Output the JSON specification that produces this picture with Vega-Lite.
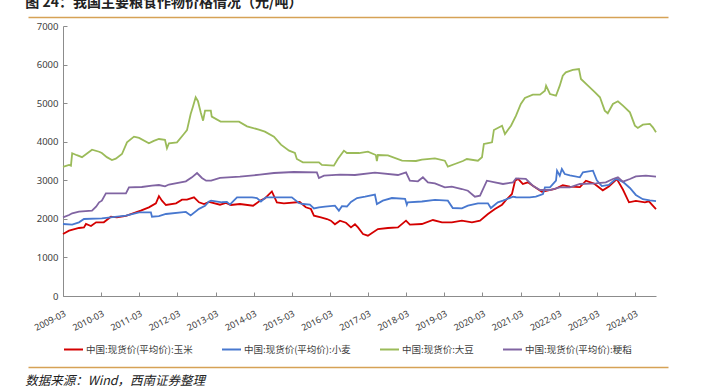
{
  "$schema": "https://vega.github.io/schema/vega-lite/v6.json",
  "background": "white",
  "padding": {"left": 25, "top": -5, "right": 5, "bottom": 0},
  "spacing": 0,
  "bounds": "full",
  "resolve": {"scale": {"color": "independent"}, "legend": {"color": "independent"}},
  "datasets": {
    "corn": [
      {"date":"2009-03-01","price":1607},{"date":"2009-04-28","price":1693},{"date":"2009-08-01","price":1763},{"date":"2009-09-18","price":1780},{"date":"2009-10-07","price":1867},{"date":"2009-11-24","price":1815},{"date":"2010-01-12","price":1910},{"date":"2010-03-27","price":1910},{"date":"2010-06-03","price":2056},{"date":"2010-07-30","price":2040},{"date":"2010-10-25","price":2075},{"date":"2011-03-16","price":2212},{"date":"2011-06-02","price":2298},{"date":"2011-08-08","price":2403},{"date":"2011-09-06","price":2590},{"date":"2011-10-05","price":2471},{"date":"2011-11-12","price":2359},{"date":"2012-02-17","price":2403},{"date":"2012-04-14","price":2497},{"date":"2012-06-01","price":2497},{"date":"2012-08-07","price":2558},{"date":"2012-09-24","price":2429},{"date":"2012-11-11","price":2385},{"date":"2012-12-29","price":2437},{"date":"2013-04-13","price":2367},{"date":"2013-06-09","price":2411},{"date":"2013-07-26","price":2359},{"date":"2013-10-21","price":2385},{"date":"2014-02-24","price":2341},{"date":"2014-05-01","price":2471},{"date":"2014-06-17","price":2530},{"date":"2014-08-23","price":2710},{"date":"2014-10-10","price":2429},{"date":"2014-12-16","price":2403},{"date":"2015-05-17","price":2437},{"date":"2015-07-14","price":2300},{"date":"2015-09-01","price":2255},{"date":"2015-09-30","price":2082},{"date":"2015-12-06","price":2040},{"date":"2016-02-02","price":1996},{"date":"2016-03-10","price":1953},{"date":"2016-04-18","price":1860},{"date":"2016-06-05","price":1953},{"date":"2016-08-02","price":1900},{"date":"2016-09-19","price":1780},{"date":"2016-10-27","price":1860},{"date":"2016-11-25","price":1780},{"date":"2017-01-12","price":1607},{"date":"2017-02-28","price":1564},{"date":"2017-06-04","price":1737},{"date":"2017-09-08","price":1763},{"date":"2017-12-13","price":1780},{"date":"2018-02-28","price":1953},{"date":"2018-04-06","price":1850},{"date":"2018-07-30","price":1867},{"date":"2018-11-13","price":1970},{"date":"2019-02-08","price":1910},{"date":"2019-05-13","price":1910},{"date":"2019-08-17","price":1953},{"date":"2019-11-22","price":1910},{"date":"2020-02-07","price":1953},{"date":"2020-04-23","price":2126},{"date":"2020-06-29","price":2255},{"date":"2020-09-05","price":2367},{"date":"2020-10-22","price":2515},{"date":"2020-12-09","price":2645},{"date":"2021-01-08","price":2990},{"date":"2021-02-06","price":3034},{"date":"2021-03-23","price":2904},{"date":"2021-05-10","price":2947},{"date":"2021-06-27","price":2860},{"date":"2021-09-22","price":2700},{"date":"2022-01-25","price":2774},{"date":"2022-04-10","price":2870},{"date":"2022-06-17","price":2835},{"date":"2022-09-21","price":2825},{"date":"2022-11-18","price":2990},{"date":"2023-02-03","price":2915},{"date":"2023-04-28","price":2740},{"date":"2023-06-25","price":2840},{"date":"2023-09-10","price":3030},{"date":"2023-11-07","price":2760},{"date":"2024-01-04","price":2430},{"date":"2024-03-10","price":2465},{"date":"2024-06-05","price":2430},{"date":"2024-07-13","price":2455},{"date":"2024-09-19","price":2255}
    ],
    "wheat": [
      {"date":"2009-03-01","price":1867},{"date":"2009-05-28","price":1850},{"date":"2009-08-01","price":1910},{"date":"2009-09-18","price":1996},{"date":"2010-03-08","price":2013},{"date":"2010-10-25","price":2082},{"date":"2011-02-28","price":2170},{"date":"2011-06-21","price":2170},{"date":"2011-07-01","price":2056},{"date":"2011-09-06","price":2070},{"date":"2011-11-12","price":2126},{"date":"2012-05-21","price":2180},{"date":"2012-07-06","price":2090},{"date":"2012-09-24","price":2260},{"date":"2012-11-21","price":2341},{"date":"2012-12-29","price":2450},{"date":"2013-01-18","price":2471},{"date":"2013-05-02","price":2430},{"date":"2013-06-18","price":2440},{"date":"2013-07-17","price":2370},{"date":"2013-09-23","price":2558},{"date":"2014-02-14","price":2558},{"date":"2014-04-02","price":2540},{"date":"2014-05-10","price":2450},{"date":"2014-06-26","price":2558},{"date":"2015-03-02","price":2558},{"date":"2015-05-08","price":2411},{"date":"2015-06-16","price":2385},{"date":"2015-08-22","price":2367},{"date":"2015-09-30","price":2270},{"date":"2015-11-17","price":2298},{"date":"2016-01-14","price":2316},{"date":"2016-04-18","price":2341},{"date":"2016-05-26","price":2212},{"date":"2016-06-24","price":2330},{"date":"2016-08-11","price":2320},{"date":"2016-09-19","price":2440},{"date":"2016-11-16","price":2540},{"date":"2017-02-01","price":2575},{"date":"2017-05-06","price":2627},{"date":"2017-05-25","price":2385},{"date":"2017-07-21","price":2471},{"date":"2017-10-16","price":2540},{"date":"2018-02-19","price":2520},{"date":"2018-03-08","price":2367},{"date":"2018-03-17","price":2430},{"date":"2018-07-30","price":2450},{"date":"2018-12-02","price":2490},{"date":"2019-04-05","price":2471},{"date":"2019-05-22","price":2281},{"date":"2019-08-17","price":2270},{"date":"2019-10-14","price":2341},{"date":"2020-01-18","price":2403},{"date":"2020-04-23","price":2403},{"date":"2020-05-21","price":2280},{"date":"2020-07-27","price":2429},{"date":"2020-09-14","price":2471},{"date":"2020-12-19","price":2575},{"date":"2021-01-17","price":2560},{"date":"2021-05-29","price":2558},{"date":"2021-07-26","price":2575},{"date":"2021-10-02","price":2645},{"date":"2021-10-21","price":2818},{"date":"2021-12-08","price":2818},{"date":"2022-02-04","price":2990},{"date":"2022-02-14","price":3249},{"date":"2022-03-12","price":3120},{"date":"2022-04-01","price":3292},{"date":"2022-04-29","price":3163},{"date":"2022-06-17","price":3130},{"date":"2022-09-21","price":3077},{"date":"2022-10-20","price":3206},{"date":"2023-01-24","price":3249},{"date":"2023-03-02","price":3000},{"date":"2023-04-19","price":2850},{"date":"2023-06-25","price":2880},{"date":"2023-09-01","price":3040},{"date":"2023-11-07","price":2960},{"date":"2024-01-13","price":2800},{"date":"2024-03-10","price":2620},{"date":"2024-05-16","price":2510},{"date":"2024-07-22","price":2480},{"date":"2024-09-19","price":2460}
    ],
    "soy": [
      {"date":"2009-03-01","price":3350},{"date":"2009-04-28","price":3400},{"date":"2009-05-16","price":3380},{"date":"2009-05-28","price":3700},{"date":"2009-07-12","price":3650},{"date":"2009-08-30","price":3600},{"date":"2009-12-04","price":3793},{"date":"2010-02-10","price":3740},{"date":"2010-03-08","price":3707},{"date":"2010-04-25","price":3600},{"date":"2010-06-13","price":3526},{"date":"2010-07-20","price":3560},{"date":"2010-09-17","price":3681},{"date":"2010-11-04","price":3985},{"date":"2011-01-10","price":4131},{"date":"2011-02-28","price":4100},{"date":"2011-06-02","price":3958},{"date":"2011-07-19","price":4020},{"date":"2011-09-06","price":4070},{"date":"2011-11-03","price":4050},{"date":"2011-11-22","price":3830},{"date":"2011-12-11","price":3960},{"date":"2012-02-26","price":3985},{"date":"2012-05-02","price":4200},{"date":"2012-06-01","price":4300},{"date":"2012-07-06","price":4719},{"date":"2012-07-27","price":4900},{"date":"2012-08-23","price":5151},{"date":"2012-09-14","price":5050},{"date":"2012-10-10","price":4762},{"date":"2012-11-02","price":4545},{"date":"2012-11-21","price":4805},{"date":"2013-01-15","price":4805},{"date":"2013-01-24","price":4650},{"date":"2013-04-19","price":4520},{"date":"2013-10-12","price":4520},{"date":"2013-12-28","price":4399},{"date":"2014-04-20","price":4313},{"date":"2014-06-17","price":4260},{"date":"2014-09-12","price":4131},{"date":"2014-11-18","price":3923},{"date":"2015-02-04","price":3768},{"date":"2015-04-01","price":3707},{"date":"2015-04-19","price":3552},{"date":"2015-06-16","price":3466},{"date":"2015-11-17","price":3466},{"date":"2015-12-15","price":3400},{"date":"2016-04-08","price":3379},{"date":"2016-05-16","price":3552},{"date":"2016-07-13","price":3768},{"date":"2016-08-11","price":3707},{"date":"2016-12-05","price":3707},{"date":"2017-02-28","price":3741},{"date":"2017-05-15","price":3655},{"date":"2017-05-25","price":3500},{"date":"2017-06-04","price":3655},{"date":"2017-09-08","price":3646},{"date":"2018-01-21","price":3508},{"date":"2018-06-03","price":3500},{"date":"2018-07-30","price":3534},{"date":"2018-12-02","price":3569},{"date":"2019-03-07","price":3508},{"date":"2019-04-05","price":3353},{"date":"2019-06-11","price":3422},{"date":"2019-08-27","price":3500},{"date":"2019-10-04","price":3552},{"date":"2020-01-18","price":3508},{"date":"2020-02-26","price":3596},{"date":"2020-03-15","price":3941},{"date":"2020-04-13","price":3958},{"date":"2020-06-01","price":3985},{"date":"2020-06-19","price":4304},{"date":"2020-09-05","price":4416},{"date":"2020-10-03","price":4200},{"date":"2020-11-30","price":4416},{"date":"2021-01-17","price":4675},{"date":"2021-03-04","price":4978},{"date":"2021-04-12","price":5133},{"date":"2021-06-27","price":5219},{"date":"2021-09-04","price":5219},{"date":"2021-10-21","price":5323},{"date":"2021-11-01","price":5453},{"date":"2021-12-08","price":5237},{"date":"2022-02-04","price":5193},{"date":"2022-03-12","price":5453},{"date":"2022-04-10","price":5712},{"date":"2022-05-09","price":5800},{"date":"2022-07-15","price":5860},{"date":"2022-09-12","price":5885},{"date":"2022-10-01","price":5626},{"date":"2022-12-07","price":5453},{"date":"2023-02-13","price":5280},{"date":"2023-04-01","price":5151},{"date":"2023-05-17","price":4805},{"date":"2023-06-15","price":4737},{"date":"2023-08-03","price":4978},{"date":"2023-09-20","price":5047},{"date":"2023-11-07","price":4934},{"date":"2024-01-13","price":4762},{"date":"2024-03-01","price":4416},{"date":"2024-03-29","price":4356},{"date":"2024-05-16","price":4442},{"date":"2024-07-22","price":4460},{"date":"2024-08-20","price":4373},{"date":"2024-09-19","price":4243}
    ],
    "rice": [
      {"date":"2009-03-01","price":2040},{"date":"2009-04-28","price":2100},{"date":"2009-05-28","price":2144},{"date":"2009-08-01","price":2186},{"date":"2009-12-04","price":2212},{"date":"2010-01-12","price":2316},{"date":"2010-02-10","price":2429},{"date":"2010-03-08","price":2471},{"date":"2010-04-16","price":2662},{"date":"2010-10-25","price":2662},{"date":"2010-11-23","price":2818},{"date":"2011-03-26","price":2826},{"date":"2011-07-01","price":2860},{"date":"2011-09-06","price":2877},{"date":"2011-11-03","price":2843},{"date":"2011-12-11","price":2890},{"date":"2012-05-21","price":2973},{"date":"2012-07-18","price":3077},{"date":"2012-09-05","price":3189},{"date":"2012-10-22","price":3060},{"date":"2012-12-01","price":2990},{"date":"2013-01-18","price":2990},{"date":"2013-04-13","price":3060},{"date":"2013-10-21","price":3093},{"date":"2014-05-01","price":3146},{"date":"2014-09-12","price":3189},{"date":"2015-03-21","price":3215},{"date":"2015-10-28","price":3206},{"date":"2015-11-17","price":3060},{"date":"2016-01-04","price":3120},{"date":"2016-06-05","price":3146},{"date":"2016-10-27","price":3137},{"date":"2017-05-06","price":3197},{"date":"2017-12-13","price":3137},{"date":"2018-02-28","price":3206},{"date":"2018-04-06","price":2990},{"date":"2018-06-22","price":2973},{"date":"2018-08-09","price":3077},{"date":"2018-09-26","price":2947},{"date":"2018-12-02","price":2920},{"date":"2019-03-07","price":2818},{"date":"2019-05-13","price":2835},{"date":"2019-08-17","price":2774},{"date":"2019-10-14","price":2730},{"date":"2019-12-20","price":2575},{"date":"2020-02-07","price":2600},{"date":"2020-04-13","price":2990},{"date":"2020-06-29","price":2947},{"date":"2020-09-14","price":2904},{"date":"2020-12-19","price":2947},{"date":"2021-01-17","price":3051},{"date":"2021-04-21","price":3034},{"date":"2021-06-27","price":2860},{"date":"2021-09-04","price":2748},{"date":"2021-12-08","price":2748},{"date":"2022-03-12","price":2818},{"date":"2022-06-17","price":2818},{"date":"2022-09-21","price":2904},{"date":"2023-02-22","price":2920},{"date":"2023-05-27","price":2947},{"date":"2023-08-03","price":3034},{"date":"2023-09-20","price":3077},{"date":"2023-11-07","price":2964},{"date":"2024-01-13","price":3034},{"date":"2024-03-10","price":3103},{"date":"2024-06-14","price":3120},{"date":"2024-09-19","price":3095}
    ]
  },
  "vconcat": [
    {
      "width": 640,
      "height": 1,
      "data": {"values": [{"v": 0}]},
      "mark": {"type": "point", "opacity": 0},
      "encoding": {
        "x": {"field": "v", "type": "quantitative", "scale": {"domain": [0, 1]},
              "axis": {"orient": "top", "labels": false, "ticks": false, "title": null, "grid": false, "domainColor": "#d6a256", "domainWidth": 1.5}}
      },
      "title": {"text": "图 24：我国主要粮食作物价格情况（元/吨）", "anchor": "start", "fontSize": 14, "fontWeight": "bold", "font": "Noto Sans CJK SC", "color": "#222222", "offset": 5}
    },
    {
      "hconcat": [
        {
          "width": 1,
          "height": 270,
          "data": {"values": [{}]},
          "mark": {"type": "text"},
          "encoding": {"text": {"value": ""}},
          "view": {"stroke": null, "fill": "#ffffff"}
        },
        {
          "width": 593,
          "height": 270,
          "encoding": {
            "x": {
              "field": "date",
              "type": "temporal",
              "scale": {"domain": [{"year": 2009, "month": 3, "date": 1}, {"year": 2024, "month": 9, "date": 19}]},
              "axis": {
                "title": null,
                "grid": false,
                "values": [
                  {"year": 2009, "month": 3, "date": 1}, {"year": 2010, "month": 3, "date": 1}, {"year": 2011, "month": 3, "date": 1}, {"year": 2012, "month": 3, "date": 1},
                  {"year": 2013, "month": 3, "date": 1}, {"year": 2014, "month": 3, "date": 1}, {"year": 2015, "month": 3, "date": 1}, {"year": 2016, "month": 3, "date": 1},
                  {"year": 2017, "month": 3, "date": 1}, {"year": 2018, "month": 3, "date": 1}, {"year": 2019, "month": 3, "date": 1}, {"year": 2020, "month": 3, "date": 1},
                  {"year": 2021, "month": 3, "date": 1}, {"year": 2022, "month": 3, "date": 1}, {"year": 2023, "month": 3, "date": 1}, {"year": 2024, "month": 3, "date": 1}
                ],
                "format": "%Y-%m",
                "labelAngle": -27,
                "labelFontSize": 9,
                "labelFont": "Noto Sans",
                "labelColor": "#404040",
                "labelOverlap": false,
                "labelFlush": false,
                "labelBound": false,
                "labelPadding": 17,
                "domainColor": "#8c8c8c",
                "tickColor": "#8c8c8c",
                "tickSize": -4
              }
            },
            "y": {
              "field": "price",
              "type": "quantitative",
              "scale": {"domain": [0, 7000]},
              "axis": {
                "title": null,
                "grid": false,
                "values": [0, 1000, 2000, 3000, 4000, 5000, 6000, 7000],
                "format": "d",
                "labelFontSize": 9.5,
                "labelFont": "Noto Sans",
                "labelColor": "#404040",
                "labelPadding": 9,
                "domainColor": "#8c8c8c",
                "tickColor": "#8c8c8c",
                "tickSize": -4
              }
            }
          },
          "layer": [
            {
              "data": {"name": "corn"},
              "mark": {"type": "line", "strokeWidth": 1.8},
              "encoding": {
                "color": {
                  "datum": "中国:现货价(平均价):玉米",
                  "type": "nominal",
                  "scale": {
                    "domain": ["中国:现货价(平均价):玉米", "中国:现货价(平均价):小麦", "中国:现货价:大豆", "中国:现货价(平均价):粳稻"],
                    "range": ["#d40000", "#4878cf", "#9bbb59", "#8064a2"]
                  },
                  "legend": {
                    "orient": "bottom",
                    "offset": 6,
                    "direction": "horizontal",
                    "title": null,
                    "symbolType": "stroke",
                    "symbolSize": 361,
                    "symbolStrokeWidth": 2,
                    "labelFontSize": 9.5,
                    "labelFont": "Noto Sans CJK SC",
                    "labelColor": "#404040",
                    "columnPadding": 25,
                    "labelOffset": 2,
                    "padding": 0
                  }
                }
              }
            },
            {
              "data": {"name": "wheat"},
              "mark": {"type": "line", "strokeWidth": 1.8},
              "encoding": {"color": {"datum": "中国:现货价(平均价):小麦", "type": "nominal"}}
            },
            {
              "data": {"name": "soy"},
              "mark": {"type": "line", "strokeWidth": 1.8},
              "encoding": {"color": {"datum": "中国:现货价:大豆", "type": "nominal"}}
            },
            {
              "data": {"name": "rice"},
              "mark": {"type": "line", "strokeWidth": 1.8},
              "encoding": {"color": {"datum": "中国:现货价(平均价):粳稻", "type": "nominal"}}
            }
          ]
        }
      ],
      "spacing": 3,
      "bounds": "full",
      "resolve": {"scale": {"color": "independent"}, "legend": {"color": "independent"}}
    },
    {
      "width": 640,
      "height": 13,
      "data": {"values": [{"v": 0}]},
      "mark": {"type": "point", "opacity": 0},
      "encoding": {
        "x": {"field": "v", "type": "quantitative", "scale": {"domain": [0, 1]},
              "axis": {"orient": "bottom", "labels": false, "ticks": false, "title": null, "grid": false, "domainColor": "#d6a256", "domainWidth": 1.5}}
      },
      "title": {"text": "数据来源：Wind，西南证券整理", "orient": "bottom", "anchor": "start", "fontSize": 12.5, "fontStyle": "italic", "fontWeight": "normal", "font": "Noto Sans CJK SC", "color": "#222222", "offset": 8}
    }
  ],
  "config": {
    "view": {"stroke": null},
    "font": "Noto Sans CJK SC"
  }
}
